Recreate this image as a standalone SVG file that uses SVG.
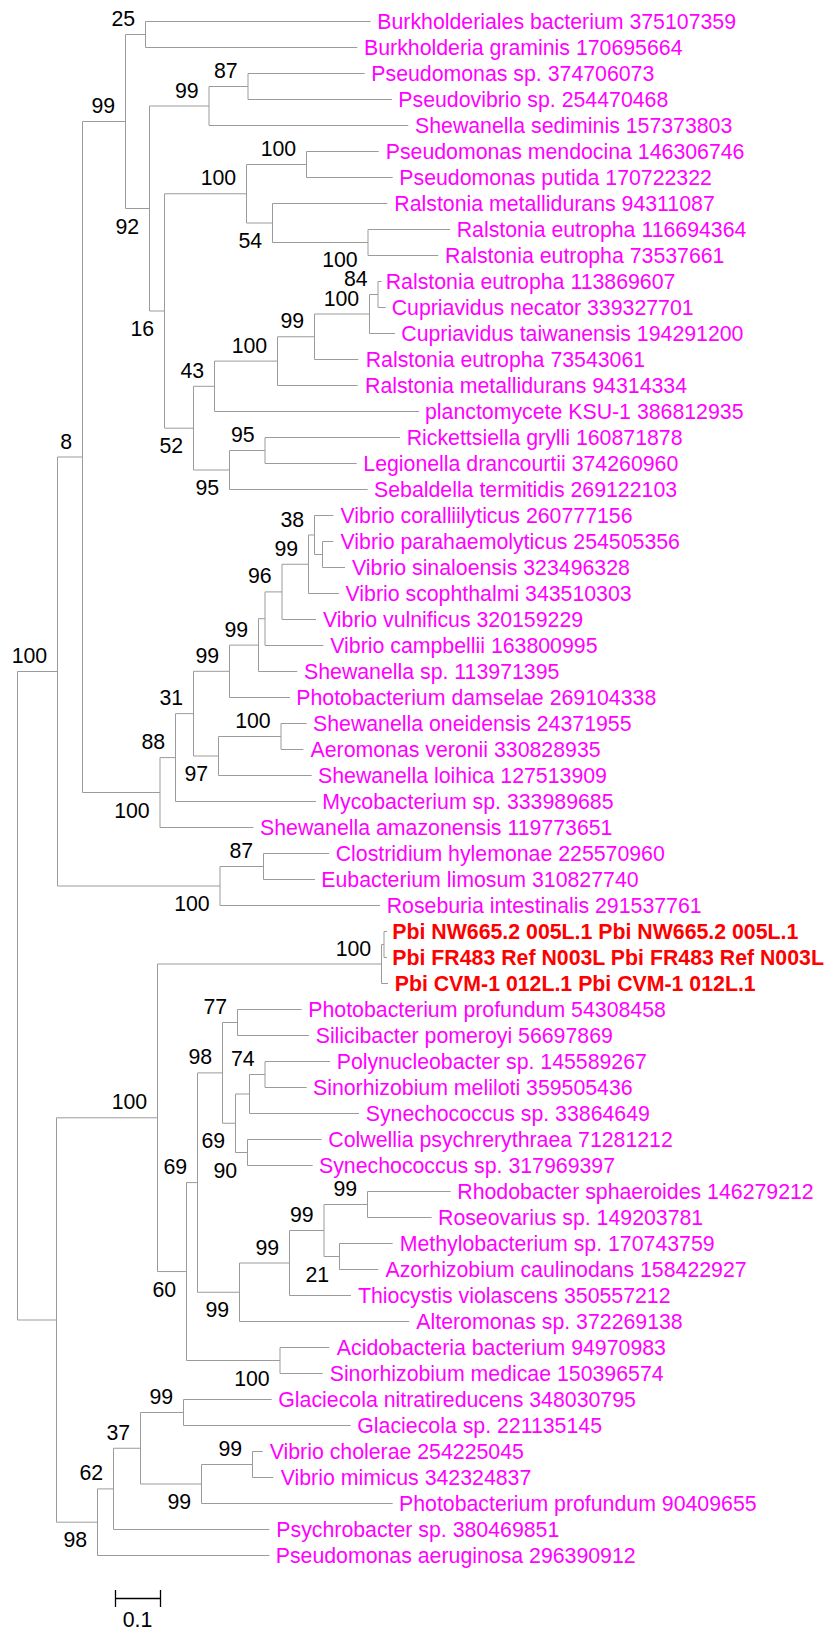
<svg xmlns="http://www.w3.org/2000/svg" width="830" height="1630" viewBox="0 0 830 1630">
<style>
.br{fill:none;stroke:#9b9b9b;stroke-width:1}
.lf{font-family:"Liberation Sans",Arial,sans-serif;font-size:21.3px;fill:#ff00ff}
.pbi{font-family:"Liberation Sans",Arial,sans-serif;font-size:21.3px;font-weight:bold;fill:#ff0000}
.bs{font-family:"Liberation Sans",Arial,sans-serif;font-size:21.3px;fill:#000;text-anchor:end}
.sc{fill:none;stroke:#000;stroke-width:1.3}
</style>
<rect width="830" height="1630" fill="#fff"/>
<!-- branches: one path per internal node (vertical bar + horizontal edges to children) -->
<g id="connectors" class="br">
<path d="M17.5 671.5V1320M17.5 671.5H57.5M17.5 1320H56.5"/>
<path d="M57.5 457V886M57.5 457H82.5M57.5 886H220"/>
<path d="M82.5 121.5V792.5M82.5 121.5H125.5M82.5 792.5H160"/>
<path d="M125.5 34.5V208.5M125.5 34.5H145.5M125.5 208.5H149.5"/>
<path d="M145.5 21.5V47.5M145.5 21.5H370.7M145.5 47.5H357.3"/>
<path d="M149.5 106V311M149.5 106H209M149.5 311H164.5"/>
<path d="M209 86.5V125.5M209 86.5H248M209 125.5H408.3"/>
<path d="M248 73.5V99.5M248 73.5H364.7M248 99.5H392"/>
<path d="M164.5 193.75V428.2M164.5 193.75H246.5M164.5 428.2H193.5"/>
<path d="M246.5 164.5V223M246.5 164.5H306.5M246.5 223H272.5"/>
<path d="M306.5 151.5V177.5M306.5 151.5H378.7M306.5 177.5H392.7"/>
<path d="M272.5 203.5V242.5M272.5 203.5H387.3M272.5 242.5H368"/>
<path d="M368 229.5V255.5M368 229.5H450M368 255.5H438.3"/>
<path d="M193.5 386.3V470M193.5 386.3H214.5M193.5 470H229.5"/>
<path d="M214.5 361.1V411.5M214.5 361.1H277.5M214.5 411.5H419"/>
<path d="M277.5 336.75V385.5M277.5 336.75H314.5M277.5 385.5H357.7"/>
<path d="M314.5 314V359.5M314.5 314H369.5M314.5 359.5H358.3"/>
<path d="M369.5 294.5V333.5M369.5 294.5H378M369.5 333.5H395"/>
<path d="M378 281.5V307.5M378 281.5H381.5M378 307.5H385.7"/>
<path d="M229.5 450.5V489.5M229.5 450.5H265M229.5 489.5H367.7"/>
<path d="M265 437.5V463.5M265 437.5H400M265 463.5H356.7"/>
<path d="M160 757.6V827.5M160 757.6H175.5M160 827.5H253.3"/>
<path d="M175.5 713.65V801.5M175.5 713.65H193.5M175.5 801.5H316"/>
<path d="M193.5 671.3V756M193.5 671.3H229.5M193.5 756H218.5"/>
<path d="M229.5 645.1V697.5M229.5 645.1H258.5M229.5 697.5H290"/>
<path d="M258.5 618.7V671.5M258.5 618.7H265M258.5 671.5H297.3"/>
<path d="M265 591.9V645.5M265 591.9H282M265 645.5H323.3"/>
<path d="M282 564.25V619.5M282 564.25H308.5M282 619.5H316"/>
<path d="M308.5 535V593.5M308.5 535H314.5M308.5 593.5H339"/>
<path d="M314.5 515.5V554.5M314.5 515.5H333.3M314.5 554.5H322.5"/>
<path d="M322.5 541.5V567.5M322.5 541.5H333.3M322.5 567.5H345"/>
<path d="M218.5 736.5V775.5M218.5 736.5H281M218.5 775.5H311.7"/>
<path d="M281 723.5V749.5M281 723.5H306.7M281 749.5H303.3"/>
<path d="M220 866.5V905.5M220 866.5H263.5M220 905.5H380"/>
<path d="M263.5 853.5V879.5M263.5 853.5H329M263.5 879.5H315"/>
<path d="M56.5 1117.8V1522.2M56.5 1117.8H157.5M56.5 1522.2H97.5"/>
<path d="M157.5 964V1271.55M157.5 964H381.5M157.5 1271.55H186.5"/>
<path d="M381.5 944.5V983.5M381.5 944.5H384M381.5 983.5H388"/>
<path d="M384 931.5V957.5M384 931.5H387M384 957.5H387"/>
<path d="M186.5 1182.6V1360.5M186.5 1182.6H197.5M186.5 1360.5H280"/>
<path d="M197.5 1072.9V1292.25M197.5 1072.9H222.5M197.5 1292.25H239.5"/>
<path d="M222.5 1022.5V1123.25M222.5 1022.5H237.5M222.5 1123.25H235.5"/>
<path d="M237.5 1009.5V1035.5M237.5 1009.5H301.7M237.5 1035.5H309"/>
<path d="M235.5 1094V1152.5M235.5 1094H249.5M235.5 1152.5H247.5"/>
<path d="M249.5 1074.5V1113.5M249.5 1074.5H265M249.5 1113.5H359"/>
<path d="M265 1061.5V1087.5M265 1061.5H330M265 1087.5H306.7"/>
<path d="M247.5 1139.5V1165.5M247.5 1139.5H321.7M247.5 1165.5H312.7"/>
<path d="M239.5 1263V1321.5M239.5 1263H289.5M239.5 1321.5H409.3"/>
<path d="M289.5 1230.5V1295.5M289.5 1230.5H324M289.5 1295.5H351"/>
<path d="M324 1204.5V1256.5M324 1204.5H367.5M324 1256.5H339.5"/>
<path d="M367.5 1191.5V1217.5M367.5 1191.5H450.7M367.5 1217.5H431.7"/>
<path d="M339.5 1243.5V1269.5M339.5 1243.5H392.7M339.5 1269.5H378.3"/>
<path d="M280 1347.5V1373.5M280 1347.5H329.3M280 1373.5H322.7"/>
<path d="M97.5 1488.9V1555.5M97.5 1488.9H113.5M97.5 1555.5H269.3"/>
<path d="M113.5 1448.25V1529.5M113.5 1448.25H140.5M113.5 1529.5H269.3"/>
<path d="M140.5 1412.5V1484M140.5 1412.5H183.5M140.5 1484H201.5"/>
<path d="M183.5 1399.5V1425.5M183.5 1399.5H271.7M183.5 1425.5H350.7"/>
<path d="M201.5 1464.5V1503.5M201.5 1464.5H252.5M201.5 1503.5H392.7"/>
<path d="M252.5 1451.5V1477.5M252.5 1451.5H262.7M252.5 1477.5H273.3"/>
</g>
<!-- bootstrap support values at internal nodes -->
<g id="n-up"><text class="bs" x="47.2" y="663">100</text></g>
<g id="n-8"><text class="bs" x="72.2" y="448.5">8</text></g>
<g id="n-99a"><text class="bs" x="115.2" y="113">99</text></g>
<g id="n-25"><text class="bs" x="135.2" y="26">25</text></g>
<g id="n-92"><text class="bs" x="139.2" y="233.5">92</text></g>
<g id="n-99b"><text class="bs" x="198.7" y="97.5">99</text></g>
<g id="n-87a"><text class="bs" x="237.7" y="78">87</text></g>
<g id="n-16"><text class="bs" x="154.2" y="336">16</text></g>
<g id="n-100a"><text class="bs" x="236.2" y="185.25">100</text></g>
<g id="n-100b"><text class="bs" x="296.2" y="156">100</text></g>
<g id="n-54"><text class="bs" x="262.2" y="248">54</text></g>
<g id="n-100c"><text class="bs" x="357.7" y="267">100</text></g>
<g id="n-52"><text class="bs" x="183.2" y="453.2">52</text></g>
<g id="n-43"><text class="bs" x="204.2" y="377.8">43</text></g>
<g id="n-100d"><text class="bs" x="267.2" y="352.6">100</text></g>
<g id="n-99c"><text class="bs" x="304.2" y="328.25">99</text></g>
<g id="n-100e"><text class="bs" x="359.2" y="305.5">100</text></g>
<g id="n-84"><text class="bs" x="367.7" y="286">84</text></g>
<g id="n-95a"><text class="bs" x="219.2" y="495">95</text></g>
<g id="n-95b"><text class="bs" x="254.7" y="442">95</text></g>
<g id="n-vib"><text class="bs" x="149.7" y="817.5">100</text></g>
<g id="n-88"><text class="bs" x="165.2" y="749.1">88</text></g>
<g id="n-31"><text class="bs" x="183.2" y="705.15">31</text></g>
<g id="n-99f"><text class="bs" x="219.2" y="662.8">99</text></g>
<g id="n-99e"><text class="bs" x="248.2" y="636.6">99</text></g>
<g id="n-96"><text class="bs" x="271.7" y="583.4">96</text></g>
<g id="n-99d"><text class="bs" x="298.2" y="555.75">99</text></g>
<g id="n-38"><text class="bs" x="304.2" y="526.5">38</text></g>
<g id="n-97"><text class="bs" x="208.2" y="781">97</text></g>
<g id="n-100f"><text class="bs" x="270.7" y="728">100</text></g>
<g id="n-clos"><text class="bs" x="209.7" y="911">100</text></g>
<g id="n-87b"><text class="bs" x="253.2" y="858">87</text></g>
<g id="n-100h"><text class="bs" x="147.2" y="1109.3">100</text></g>
<g id="n-pbi"><text class="bs" x="371.2" y="955.5">100</text></g>
<g id="n-60"><text class="bs" x="176.2" y="1296.55">60</text></g>
<g id="n-69a"><text class="bs" x="187.2" y="1174.1">69</text></g>
<g id="n-98a"><text class="bs" x="212.2" y="1064.4">98</text></g>
<g id="n-77"><text class="bs" x="227.2" y="1014">77</text></g>
<g id="n-69b"><text class="bs" x="225.2" y="1148.25">69</text></g>
<g id="n-74"><text class="bs" x="254.7" y="1066">74</text></g>
<g id="n-90"><text class="bs" x="237.2" y="1177.5">90</text></g>
<g id="n-99j"><text class="bs" x="229.2" y="1317.25">99</text></g>
<g id="n-99i"><text class="bs" x="279.2" y="1254.5">99</text></g>
<g id="n-99h"><text class="bs" x="313.7" y="1222">99</text></g>
<g id="n-99g"><text class="bs" x="357.2" y="1196">99</text></g>
<g id="n-21"><text class="bs" x="329.2" y="1281.5">21</text></g>
<g id="n-100g"><text class="bs" x="269.7" y="1385.5">100</text></g>
<g id="n-98b"><text class="bs" x="87.2" y="1547.2">98</text></g>
<g id="n-62"><text class="bs" x="103.2" y="1480.4">62</text></g>
<g id="n-37"><text class="bs" x="130.2" y="1439.75">37</text></g>
<g id="n-99k"><text class="bs" x="173.2" y="1404">99</text></g>
<g id="n-99m"><text class="bs" x="191.2" y="1509">99</text></g>
<g id="n-99l"><text class="bs" x="242.2" y="1456">99</text></g>
<!-- taxa -->
<g id="t01"><text class="lf" x="377.3" y="28.6">Burkholderiales bacterium 375107359</text></g>
<g id="t02"><text class="lf" x="364" y="54.6">Burkholderia graminis 170695664</text></g>
<g id="t03"><text class="lf" x="371.3" y="80.6">Pseudomonas sp. 374706073</text></g>
<g id="t04"><text class="lf" x="398.3" y="106.6">Pseudovibrio sp. 254470468</text></g>
<g id="t05"><text class="lf" x="415" y="132.6">Shewanella sediminis 157373803</text></g>
<g id="t06"><text class="lf" x="385.7" y="158.6">Pseudomonas mendocina 146306746</text></g>
<g id="t07"><text class="lf" x="399.3" y="184.6">Pseudomonas putida 170722322</text></g>
<g id="t08"><text class="lf" x="394.3" y="210.6">Ralstonia metallidurans 94311087</text></g>
<g id="t09"><text class="lf" x="456.7" y="236.6">Ralstonia eutropha 116694364</text></g>
<g id="t10"><text class="lf" x="445" y="262.6">Ralstonia eutropha 73537661</text></g>
<g id="t11"><text class="lf" x="385.7" y="288.6">Ralstonia eutropha 113869607</text></g>
<g id="t12"><text class="lf" x="391.7" y="314.6">Cupriavidus necator 339327701</text></g>
<g id="t13"><text class="lf" x="401.3" y="340.6">Cupriavidus taiwanensis 194291200</text></g>
<g id="t14"><text class="lf" x="365.7" y="366.6">Ralstonia eutropha 73543061</text></g>
<g id="t15"><text class="lf" x="365" y="392.6">Ralstonia metallidurans 94314334</text></g>
<g id="t16"><text class="lf" x="425" y="418.6">planctomycete KSU-1 386812935</text></g>
<g id="t17"><text class="lf" x="406.7" y="444.6">Rickettsiella grylli 160871878</text></g>
<g id="t18"><text class="lf" x="363.3" y="470.6">Legionella drancourtii 374260960</text></g>
<g id="t19"><text class="lf" x="374" y="496.6">Sebaldella termitidis 269122103</text></g>
<g id="t20"><text class="lf" x="340.5" y="522.6">Vibrio coralliilyticus 260777156</text></g>
<g id="t21"><text class="lf" x="340.5" y="548.6">Vibrio parahaemolyticus 254505356</text></g>
<g id="t22"><text class="lf" x="352" y="574.6">Vibrio sinaloensis 323496328</text></g>
<g id="t23"><text class="lf" x="345.5" y="600.6">Vibrio scophthalmi 343510303</text></g>
<g id="t24"><text class="lf" x="323" y="626.6">Vibrio vulnificus 320159229</text></g>
<g id="t25"><text class="lf" x="330.3" y="652.6">Vibrio campbellii 163800995</text></g>
<g id="t26"><text class="lf" x="304" y="678.6">Shewanella sp. 113971395</text></g>
<g id="t27"><text class="lf" x="296.3" y="704.6">Photobacterium damselae 269104338</text></g>
<g id="t28"><text class="lf" x="313" y="730.6">Shewanella oneidensis 24371955</text></g>
<g id="t29"><text class="lf" x="310.5" y="756.6">Aeromonas veronii 330828935</text></g>
<g id="t30"><text class="lf" x="318" y="782.6">Shewanella loihica 127513909</text></g>
<g id="t31"><text class="lf" x="322.3" y="808.6">Mycobacterium sp. 333989685</text></g>
<g id="t32"><text class="lf" x="260" y="834.6">Shewanella amazonensis 119773651</text></g>
<g id="t33"><text class="lf" x="335.7" y="860.6">Clostridium hylemonae 225570960</text></g>
<g id="t34"><text class="lf" x="321.3" y="886.6">Eubacterium limosum 310827740</text></g>
<g id="t35"><text class="lf" x="386.7" y="912.6">Roseburia intestinalis 291537761</text></g>
<g id="t36"><text class="pbi" x="392.3" y="938.6">Pbi NW665.2 005L.1 Pbi NW665.2 005L.1</text></g>
<g id="t37"><text class="pbi" x="392.3" y="964.6">Pbi FR483 Ref N003L Pbi FR483 Ref N003L</text></g>
<g id="t38"><text class="pbi" x="394.7" y="990.6">Pbi CVM-1 012L.1 Pbi CVM-1 012L.1</text></g>
<g id="t39"><text class="lf" x="308.3" y="1016.6">Photobacterium profundum 54308458</text></g>
<g id="t40"><text class="lf" x="315.7" y="1042.6">Silicibacter pomeroyi 56697869</text></g>
<g id="t41"><text class="lf" x="336.7" y="1068.6">Polynucleobacter sp. 145589267</text></g>
<g id="t42"><text class="lf" x="313" y="1094.6">Sinorhizobium meliloti 359505436</text></g>
<g id="t43"><text class="lf" x="365.7" y="1120.6">Synechococcus sp. 33864649</text></g>
<g id="t44"><text class="lf" x="328.3" y="1146.6">Colwellia psychrerythraea 71281212</text></g>
<g id="t45"><text class="lf" x="319" y="1172.6">Synechococcus sp. 317969397</text></g>
<g id="t46"><text class="lf" x="457.3" y="1198.6">Rhodobacter sphaeroides 146279212</text></g>
<g id="t47"><text class="lf" x="438" y="1224.6">Roseovarius sp. 149203781</text></g>
<g id="t48"><text class="lf" x="399.7" y="1250.6">Methylobacterium sp. 170743759</text></g>
<g id="t49"><text class="lf" x="385.5" y="1276.6">Azorhizobium caulinodans 158422927</text></g>
<g id="t50"><text class="lf" x="358" y="1302.6">Thiocystis violascens 350557212</text></g>
<g id="t51"><text class="lf" x="416.3" y="1328.6">Alteromonas sp. 372269138</text></g>
<g id="t52"><text class="lf" x="336.8" y="1354.6">Acidobacteria bacterium 94970983</text></g>
<g id="t53"><text class="lf" x="329.7" y="1380.6">Sinorhizobium medicae 150396574</text></g>
<g id="t54"><text class="lf" x="278.3" y="1406.6">Glaciecola nitratireducens 348030795</text></g>
<g id="t55"><text class="lf" x="357.3" y="1432.6">Glaciecola sp. 221135145</text></g>
<g id="t56"><text class="lf" x="269.7" y="1458.6">Vibrio cholerae 254225045</text></g>
<g id="t57"><text class="lf" x="280.7" y="1484.6">Vibrio mimicus 342324837</text></g>
<g id="t58"><text class="lf" x="399" y="1510.6">Photobacterium profundum 90409655</text></g>
<g id="t59"><text class="lf" x="276.3" y="1536.6">Psychrobacter sp. 380469851</text></g>
<g id="t60"><text class="lf" x="275.7" y="1562.6">Pseudomonas aeruginosa 296390912</text></g>
<!-- scale bar -->
<g id="scale">
<path class="sc" d="M115.5 1598.5H160.5M115.5 1590V1607M160.5 1590V1607"/>
<text class="bs" x="137.5" y="1626.5" style="text-anchor:middle">0.1</text>
</g>
</svg>
